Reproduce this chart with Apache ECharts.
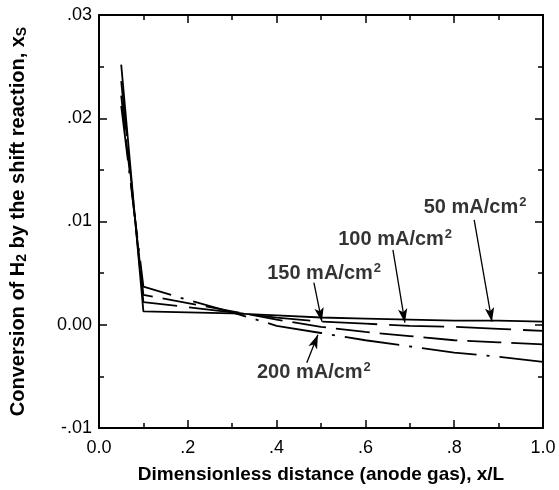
<!DOCTYPE html>
<html><head><meta charset="utf-8">
<script src="https://cdn.jsdelivr.net/npm/echarts@6/dist/echarts.min.js"></script>
<style>html,body{margin:0;padding:0;background:#fff}#c{width:559px;height:490px}</style>
</head><body><div id="c"></div>
<script>
const xValues = [0.05, 0.1, 0.2, 0.3, 0.4, 0.5, 0.6, 0.7, 0.8, 0.9, 1.0];
const s50  = [0.0252, 0.0013, 0.0012, 0.0011, 0.0009, 0.0007, 0.0006, 0.0005, 0.0004, 0.0004, 0.0003];
const s100 = [0.0236, 0.0022, 0.0017, 0.0012, 0.0007, 0.0003, 0.0001, -0.0001, -0.0002, -0.0004, -0.0006];
const s150 = [0.0222, 0.0029, 0.0021, 0.0013, 0.0005, -0.0002, -0.0007, -0.0011, -0.0015, -0.0017, -0.0019];
const s200 = [0.0212, 0.0037, 0.0024, 0.0012, -0.0001, -0.0008, -0.0015, -0.0021, -0.0027, -0.0031, -0.0036];
const seriesNames = ['50', '100', '150', '200'];
// annotation: label position and arrow start/end, in data units
const annLabel = [[0.847, 0.01133], [0.667, 0.00823], [0.507, 0.00494], [0.484, -0.00465]];
const annArrowFrom = [[0.845, 0.01016], [0.662, 0.00726], [0.484, 0.00407], [0.468, -0.00368]];
const annArrowTo = [[0.885, 0.0003], [0.689, 0.0002], [0.502, 0.0003], [0.493, -0.00097]];

const FONT = 'Arial, "Liberation Sans", sans-serif';
const allSeries = [s50, s100, s150, s200];
const dashes = ['solid', [55, 12], [34, 10], [55, 10, 3, 10]];

const chart = echarts.init(document.getElementById('c'), null, {renderer: 'canvas'});
const axisLine = {show: true, onZero: false, lineStyle: {color: '#000', width: 2}};
const tick = {show: true, inside: true, length: 8, lineStyle: {color: '#000', width: 1.5}};
const minor = {show: true, splitNumber: 2, length: 5, lineStyle: {color: '#000', width: 1.5}};

function xFmt(v) { const r = Math.round(v * 10); if (r === 0) return '0.0'; if (r === 10) return '1.0'; return '.' + r; }
function yFmt(v) { const r = Math.round(v * 100); if (r === 0) return '0.00'; return (r < 0 ? '-' : '') + '.0' + Math.abs(r); }

const series = allSeries.map((arr, i) => ({
  type: 'line', name: seriesNames[i],
  data: xValues.map((x, j) => [x, arr[j]]),
  showSymbol: false, symbol: 'none',
  lineStyle: {color: '#000', width: 1.8, type: dashes[i]},
  z: 3
}));

series.push({
  type: 'scatter', symbolSize: 0, silent: true,
  data: annLabel.map((p, i) => ({value: p, name: seriesNames[i]})),
  label: {
    show: true, position: 'inside',
    formatter: p => '{b|' + p.name + ' mA/cm}{s|2}',
    rich: {
      b: {fontFamily: FONT, fontWeight: 'bold', fontSize: 20, color: '#000'},
      s: {fontFamily: FONT, fontWeight: 'bold', fontSize: 13, color: '#000', padding: [0, 0, 11, 1]}
    }
  },
  markLine: {
    silent: true, symbol: ['none', 'arrow'], symbolSize: [7, 14],
    label: {show: false},
    lineStyle: {color: '#000', width: 1.3, type: 'solid'},
    data: annArrowFrom.map((p, i) => [{coord: p}, {coord: annArrowTo[i]}])
  }
});

chart.setOption({
  animation: false,
  grid: {left: 99, right: 16, top: 15, bottom: 62, outerBoundsMode: 'none', containLabel: false},
  xAxis: [{
    type: 'value', min: 0, max: 1, interval: 0.2,
    axisLine, axisTick: tick, minorTick: minor, splitLine: {show: false},
    axisLabel: {formatter: xFmt, fontFamily: FONT, fontSize: 18, color: '#000', margin: 11},
    name: 'Dimensionless distance (anode gas), x/L', nameLocation: 'middle', nameGap: 37,
    nameTextStyle: {fontFamily: FONT, fontWeight: 'bold', fontSize: 19, color: '#000'}
  }, {
    type: 'value', min: 0, max: 1, interval: 0.2, position: 'top',
    axisLine, axisTick: tick, minorTick: minor, splitLine: {show: false}, axisLabel: {show: false}
  }],
  yAxis: [{
    type: 'value', min: -0.01, max: 0.03, interval: 0.01,
    axisLine, axisTick: tick, minorTick: minor, splitLine: {show: false},
    axisLabel: {formatter: yFmt, fontFamily: FONT, fontSize: 18, color: '#000', margin: 7},
    name: '{t|Conversion of H}{sub|2}{t| by the shift reaction, x}{sub|S}',
    nameLocation: 'middle', nameGap: 70, nameRotate: 90,
    nameTextStyle: {
      rich: {
        t: {fontFamily: FONT, fontWeight: 'bold', fontSize: 20, color: '#000'},
        sub: {fontFamily: FONT, fontWeight: 'bold', fontSize: 14, color: '#000', padding: [8, 0, 0, 0]}
      }
    }
  }, {
    type: 'value', min: -0.01, max: 0.03, interval: 0.01, position: 'right',
    axisLine, axisTick: tick, minorTick: minor, splitLine: {show: false}, axisLabel: {show: false}
  }],
  series
});
</script></body></html>
